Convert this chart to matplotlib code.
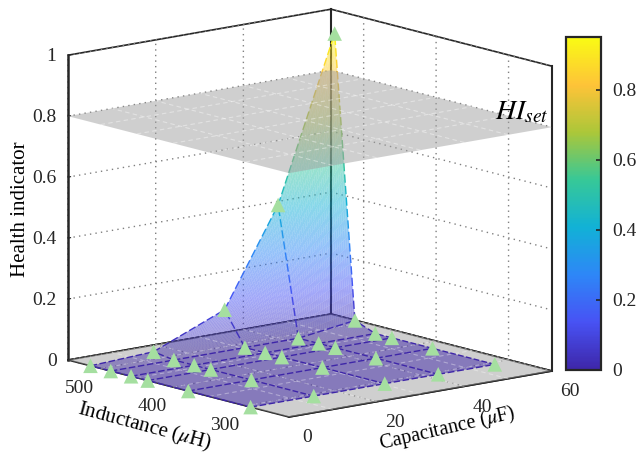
import numpy as np
import matplotlib
matplotlib.use("Agg")
import matplotlib.pyplot as plt
from matplotlib.colors import LinearSegmentedColormap, Normalize
from matplotlib.cm import ScalarMappable
from mpl_toolkits.mplot3d import proj3d
from mpl_toolkits.mplot3d.art3d import Line3DCollection, Poly3DCollection

# ---- data ----
capacitance = [0, 14.4, 30.6, 42.8, 55.7]
inductance = [293, 379, 435, 458, 486, 514]
hi_row_293 = [0, 0, 0, 0, 0]
hi_row_379 = [0, 0, 0, 0, 0]
hi_row_435 = [0, 0, 0, 0, 0]
hi_row_458 = [0, 0, 0, 0, 0]
hi_row_486 = [0, 0, 0, 0, 0.026]
hi_row_514 = [0, 0.01, 0.107, 0.42, 0.95]
hi_set = 0.8
plane_mesh_c = [10, 20, 30, 40, 50]
plane_mesh_l = [300, 350, 400, 450, 500]
c_ticks = [0, 20, 40, 60]
l_ticks = [300, 400, 500]
z_ticks = [0, 0.2, 0.4, 0.6, 0.8, 1]
z_labels = ["0", "0.2", "0.4", "0.6", "0.8", "1"]
cb_ticks = [0, 0.2, 0.4, 0.6, 0.8]
cb_labels = ["0", "0.2", "0.4", "0.6", "0.8"]
parula = [(0.2422, 0.1504, 0.6603), (0.2810, 0.3228, 0.9579), (0.1786, 0.5289, 0.9682),
          (0.0689, 0.6948, 0.8394), (0.2161, 0.7843, 0.5923), (0.6720, 0.7793, 0.2227),
          (0.9970, 0.7659, 0.2199), (0.9769, 0.9839, 0.0805)]

# ---- style ----
plt.rcParams["font.family"] = ["Liberation Serif", "DejaVu Serif"]
plt.rcParams["mathtext.fontset"] = "stix"
plt.rcParams["grid.color"] = "#808080"
plt.rcParams["grid.linestyle"] = (0, (1, 3))
plt.rcParams["grid.linewidth"] = 1.0
DARK = "#262626"
TICK = 14
LAB = 15

C_LIM = (0, 60)
L_LIM = (240, 545)
Z_LIM = (0, 1)

C = np.array(capacitance, float)
L = np.array(inductance, float)
H = np.array([hi_row_293, hi_row_379, hi_row_435, hi_row_458, hi_row_486, hi_row_514], float)

cmap = LinearSegmentedColormap.from_list("parula", parula, N=256)
norm = Normalize(0, H.max())

W, Ht = 636, 455
fig = plt.figure(figsize=(W / 100, Ht / 100), dpi=100, facecolor="white")
ax = fig.add_axes([0.1, 0.1, 0.7, 0.7 * W / Ht], projection="3d", proj_type="ortho",
                  computed_zorder=False)
ax.patch.set_visible(False)
ax.view_init(elev=12.26, azim=-129.47)
ax.set_box_aspect((340.8, 347.7, 312))


def set_limits():
    ax.set_xlim(*C_LIM, view_margin=0)
    ax.set_ylim(*L_LIM, view_margin=0)
    ax.set_zlim(*Z_LIM, view_margin=0)


# box lines that the reference draws heavier
ax.plot([60, 60], [L_LIM[1]] * 2, Z_LIM, color=DARK, lw=1.5, zorder=0.5)
ax.plot([60, 60], [L_LIM[0]] * 2, Z_LIM, color=DARK, lw=1.5, zorder=0.5)

# floor and HI_set plane share the same grey
px = np.array(C_LIM, float)
py = np.array(L_LIM, float)
PX, PY = np.meshgrid(px, py)
ax.plot_surface(PX, PY, np.zeros_like(PX), color="#a0a0a0", alpha=0.5, shade=False,
                linewidth=0, zorder=1)

# surface with interpolated shading: flat cells stay whole, raised cells are refined bilinearly
polys, pcols = [], []
for i in range(len(L) - 1):
    for j in range(len(C) - 1):
        z00, z01, z10, z11 = H[i, j], H[i, j + 1], H[i + 1, j], H[i + 1, j + 1]
        n = 1 if max(z00, z01, z10, z11) == min(z00, z01, z10, z11) else 30
        for a in range(n):
            for b in range(n):
                corners = []
                for ta, tb in [(a / n, b / n), ((a + 1) / n, b / n), ((a + 1) / n, (b + 1) / n), (a / n, (b + 1) / n)]:
                    zv = z00 * (1 - ta) * (1 - tb) + z10 * ta * (1 - tb) + z01 * (1 - ta) * tb + z11 * ta * tb
                    corners.append((C[j] + (C[j + 1] - C[j]) * tb, L[i] + (L[i + 1] - L[i]) * ta, zv))
                polys.append(corners)
                col = list(cmap(norm(np.mean([c[2] for c in corners]))))
                col[3] = 0.5
                pcols.append(col)
surface = Poly3DCollection(polys, facecolors=pcols, edgecolors="none", linewidths=0, zorder=2)
ax.add_collection3d(surface, autolim=False)

# dashed mesh edges coloured by height
segs, cols = [], []


def add_edge(a, b):
    a, b = np.array(a, float), np.array(b, float)
    dx = (b[0] - a[0]) / 60 * 340
    dy = (b[1] - a[1]) / 305 * 347
    dz = (b[2] - a[2]) * 305
    n = max(1, int(np.hypot(np.hypot(dx, dy), dz) / 11))
    for k in range(n):
        p = a + (b - a) * k / n
        q = a + (b - a) * (k + 0.72) / n
        segs.append([p, q])
        cols.append(cmap(norm(0.5 * (p[2] + q[2]))))


for i in range(len(L)):
    for j in range(len(C)):
        if j + 1 < len(C):
            add_edge((C[j], L[i], H[i, j]), (C[j + 1], L[i], H[i, j + 1]))
        if i + 1 < len(L):
            add_edge((C[j], L[i], H[i, j]), (C[j], L[i + 1], H[i + 1, j]))
ax.add_collection3d(Line3DCollection(segs, colors=cols, linewidths=1.0, zorder=3), autolim=False)

# white dashed meshes on floor and plane
for level, zo, al in [(0, 2.5, 0.35), (hi_set, 4.5, 0.4)]:
    for c in plane_mesh_c:
        ax.plot([c, c], L_LIM, [level, level], color="white", lw=0.8, ls=(0, (4, 3)), alpha=al, zorder=zo)
    for l in plane_mesh_l:
        ax.plot(C_LIM, [l, l], [level, level], color="white", lw=0.8, ls=(0, (4, 3)), alpha=al, zorder=zo)

ax.plot_surface(PX, PY, np.full_like(PX, hi_set), color="#a0a0a0", alpha=0.5, shade=False,
                linewidth=0, zorder=4)

# measured points
CC, LL = np.meshgrid(C, L)
ax.scatter(CC.ravel(), LL.ravel(), H.ravel(), marker="^", s=110, color="#a5dfa0",
           edgecolors="none", depthshade=False, zorder=6)

set_limits()
ax.set_xticks(c_ticks)
ax.set_yticks(l_ticks)
ax.set_zticks(z_ticks)
ax.set_zticklabels(z_labels)
ax.set_xticklabels([str(t) for t in c_ticks])
ax.set_yticklabels([str(t) for t in l_ticks])
set_limits()
ax.tick_params(labelsize=TICK, colors=DARK)
ax.tick_params(axis="x", pad=9)
ax.tick_params(axis="y", pad=9)
ax.tick_params(axis="z", pad=-3)
for t in ax.get_xticklabels() + ax.get_yticklabels():
    t.set_ha("center")
    t.set_va("bottom")
for t in ax.get_zticklabels():
    t.set_ha("right")
    t.set_va("center_baseline")
for a in (ax.xaxis, ax.yaxis, ax.zaxis):
    a.set_pane_color((1, 1, 1, 1))
    a.pane.set_edgecolor(DARK)
    a.pane.set_linewidth(1.2)
    a.line.set_color(DARK)
    a.line.set_linewidth(1.2)
    a._axinfo["tick"]["inward_factor"] = 0.0
    a._axinfo["tick"]["outward_factor"] = 0.12
    a._axinfo["tick"]["color"] = DARK
ax.zaxis.line.set_linewidth(1.8)


def corner_px(x, y, z):
    xs, ys, _ = proj3d.proj_transform(x, y, z, ax.get_proj())
    return ax.transData.transform((xs, ys))


# fit the projected box onto the reference's frame
target_front = np.array([289.0, Ht - 417.0])
target_right = np.array([552.0, Ht - 371.0])
target_left = np.array([68.0, Ht - 360.0])
for _ in range(2):
    fig.canvas.draw()
    r = corner_px(C_LIM[1], L_LIM[0], 0)
    l = corner_px(C_LIM[0], L_LIM[1], 0)
    s = (target_right[0] - target_left[0]) / (r[0] - l[0])
    p = ax.get_position(original=True)
    cx = p.x0 + p.width / 2
    cy = p.y0 + p.height / 2
    w, h = p.width * s, p.height * s
    ax.set_position([cx - w / 2, cy - h / 2, w, h])
    fig.canvas.draw()
    f = corner_px(C_LIM[0], L_LIM[0], 0)
    d = target_front - f
    p = ax.get_position(original=True)
    ax.set_position([p.x0 + d[0] / W, p.y0 + d[1] / Ht, p.width, p.height])

# text
fig.text(145 / W, 1 - 427 / Ht, r"Inductance ($\mu$H)", fontsize=LAB, rotation=-15,
         ha="center", va="center", color="black", rotation_mode="anchor")
fig.text(447 / W, 1 - 429 / Ht, r"Capacitance ($\mu$F)", fontsize=14.5, rotation=13,
         ha="center", va="center", color="black", rotation_mode="anchor")
fig.text(21 / W, 1 - 209 / Ht, "Health indicator", fontsize=LAB, rotation=90,
         ha="center", va="center", color="black")
fig.text(522 / W, 1 - 113 / Ht, r"$HI_{set}$", fontsize=20, ha="center", va="center", color="black")

# colorbar
cax = fig.add_axes([566 / W, 1 - 370 / Ht, 35 / W, 333 / Ht])
cb = fig.colorbar(ScalarMappable(norm=norm, cmap=cmap), cax=cax, ticks=cb_ticks)
cb.ax.set_yticklabels(cb_labels)
cb.ax.tick_params(direction="in", length=3.5, width=1.2, labelsize=TICK, colors=DARK, pad=8)
cb.outline.set_edgecolor(DARK)
cb.outline.set_linewidth(1.6)

fig.savefig("out.png", dpi=100, facecolor="white")
